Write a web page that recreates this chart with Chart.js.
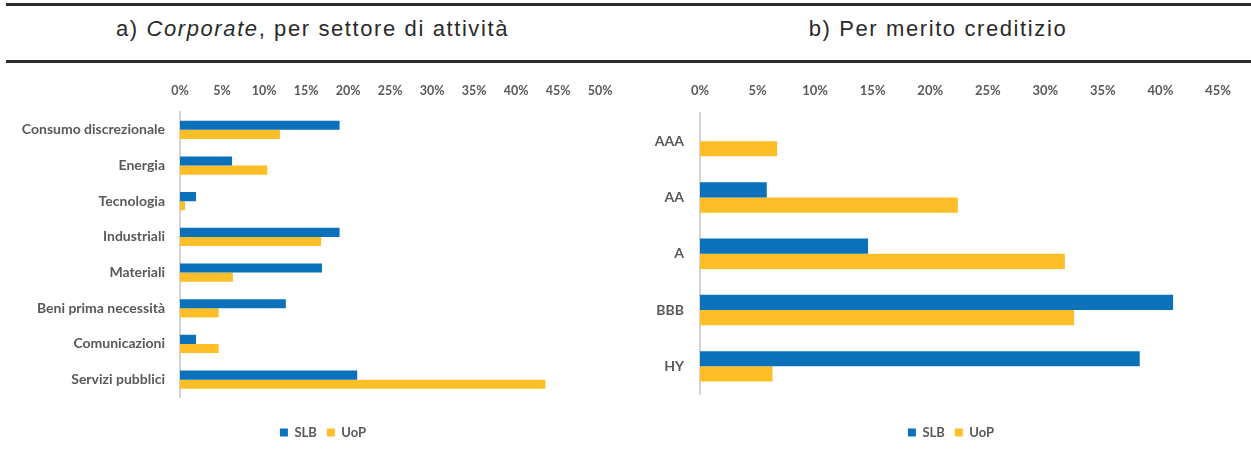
<!DOCTYPE html>
<html lang="it">
<head>
<meta charset="UTF-8">
<title>SLB e UoP</title>
<script src="https://cdn.jsdelivr.net/npm/chart.js@4.4.1/dist/chart.umd.min.js"></script>
<style>
  html, body { margin: 0; padding: 0; background: #fff; width: 1251px; height: 452px; overflow: hidden; }
  .riga { position: absolute; left: 6px; right: 0; height: 3px; background: #2b2b2b; }
  .titolo { position: absolute; top: 16px; width: 625px; text-align: center;
            font-family: "Liberation Sans", Arial, sans-serif; font-size: 22px; letter-spacing: 1.6px; color: #2a2a2a; }
  .box { position: absolute; top: 66px; height: 400px; }
</style>
</head>
<body>

<div class="riga" style="top:3px"></div>
<div class="riga" style="top:60px"></div>
<div class="titolo" style="left:0">a) <i>Corporate</i>, per settore di attività</div>
<div class="titolo" style="left:625px;width:626px">b) Per merito creditizio</div>

<div class="box" style="left:0;width:646px"><canvas id="settore"></canvas></div>
<div class="box" style="left:625px;width:652px"><canvas id="rating"></canvas></div>

<script>
// dati (percentuali)
const settori = ['Consumo discrezionale', 'Energia', 'Tecnologia', 'Industriali', 'Materiali',
                 'Beni prima necessità', 'Comunicazioni', 'Servizi pubblici'];
const settoriSLB = [19.0, 6.2, 1.9, 19.0, 16.9, 12.6, 1.9, 21.1];
const settoriUoP = [11.9, 10.4, 0.6, 16.8, 6.3, 4.6, 4.6, 43.5];

const rating = ['AAA', 'AA', 'A', 'BBB', 'HY'];
const ratingSLB = [0, 5.8, 14.6, 41.1, 38.2];
const ratingUoP = [6.7, 22.4, 31.7, 32.5, 6.3];

const BLU = '#0b71bb';
const GIALLO = '#fdbe27';
const GRIGIO = '#595959';
const FONT = 'Lato, "Open Sans", sans-serif';

function creaGrafico(id, o) {
  return new Chart(document.getElementById(id), {
    type: 'bar',
    data: {
      labels: o.labels,
      datasets: [
        { label: 'SLB', data: o.slb, backgroundColor: BLU, xAxisID: 'x', yAxisID: 'y' },
        { label: 'UoP', data: o.uop, backgroundColor: GIALLO, xAxisID: 'x', yAxisID: 'y' }
      ]
    },
    options: {
      indexAxis: 'y',
      responsive: true,
      maintainAspectRatio: false,
      animation: false,
      datasets: { bar: { categoryPercentage: o.cat, barPercentage: 1.0 } },
      layout: { padding: { left: 0, right: 0, top: 0, bottom: 17 } },
      plugins: {
        tooltip: { enabled: false },
        legend: {
          position: 'bottom',
          labels: { boxWidth: 8, boxHeight: 8, padding: 10, color: GRIGIO,
                    font: { family: FONT, size: 13, weight: 'bold' } }
        }
      },
      scales: {
        x: {
          position: 'top',
          min: 0, max: o.max,
          ticks: { stepSize: 5, padding: o.tickPad, color: GRIGIO,
                   font: { family: FONT, size: o.tickSize, weight: 'bold' },
                   callback: v => v + '%' },
          grid: { display: false, drawTicks: false },
          border: { display: false },
          afterFit: s => { s.height = o.top; s.paddingLeft = 0; s.paddingRight = 0; }
        },
        // spazi vuoti: sotto il grafico e a destra (per centrare la legenda)
        spazio: {
          type: 'linear', position: 'bottom', axis: 'x',
          ticks: { display: false },
          grid: { display: false, drawTicks: false },
          border: { display: false },
          afterFit: s => { s.height = o.gap; s.paddingLeft = 0; s.paddingRight = 0; }
        },
        destra: {
          type: 'linear', position: 'right', axis: 'y',
          ticks: { display: false },
          grid: { display: false, drawTicks: false },
          border: { display: false },
          afterFit: s => { s.width = o.rightW; s.paddingTop = 0; s.paddingBottom = 0; }
        },
        y: {
          ticks: { padding: o.labPad, color: GRIGIO,
                   font: { family: FONT, size: o.labSize, weight: 'bold' } },
          grid: { display: false, drawTicks: false },
          border: { display: true, color: '#d4d4d4', width: 2 },
          afterFit: s => { s.width = o.yW; }
        }
      }
    }
  });
}

creaGrafico('settore', {
  labels: settori, slb: settoriSLB, uop: settoriUoP,
  max: 50, cat: 0.51, yW: 180, rightW: 46,
  top: 46, gap: 18.5, tickPad: 14, tickSize: 12.5, labPad: 15, labSize: 14
});

creaGrafico('rating', {
  labels: rating, slb: ratingSLB, uop: ratingUoP,
  max: 45, cat: 0.54, yW: 75, rightW: 59,
  top: 47, gap: 21.5, tickPad: 14, tickSize: 13, labPad: 16, labSize: 14
});
</script>

</body>
</html>
